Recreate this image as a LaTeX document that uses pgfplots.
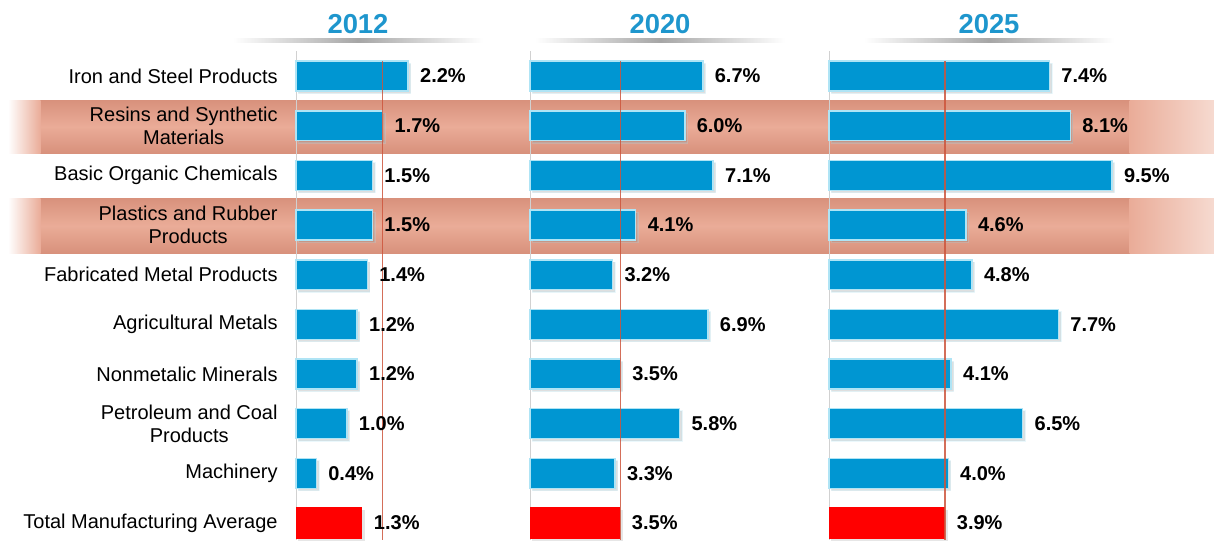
\documentclass[border=0pt]{standalone}
\usepackage{fontspec}
\setmainfont{Liberation Sans}
\usepackage{pgfplots}
\usepackage{pgfplotstable}
\pgfplotsset{compat=1.18}
\usetikzlibrary{shadows}

\definecolor{barblue}{RGB}{0,150,210}
\definecolor{barborder}{RGB}{175,228,245}
\definecolor{titleblue}{RGB}{30,150,205}
\definecolor{band}{RGB}{234,172,152}
\definecolor{banddark}{RGB}{216,145,124}
\definecolor{bandend}{RGB}{246,218,208}
\definecolor{avgline}{RGB}{205,85,60}

\pgfplotstableread{
y v
0 2.2
1 1.7
2 1.5
3 1.5
4 1.4
5 1.2
6 1.2
7 1.0
8 0.4
}\blueA
\pgfplotstableread{
y v
9 1.3
}\redA
\pgfplotstableread{
y v
0 6.7
1 6.0
2 7.1
3 4.1
4 3.2
5 6.9
6 3.5
7 5.8
8 3.3
}\blueB
\pgfplotstableread{
y v
9 3.5
}\redB
\pgfplotstableread{
y v
0 7.4
1 8.1
2 9.5
3 4.6
4 4.8
5 7.7
6 4.1
7 6.5
8 4.0
}\blueC
\pgfplotstableread{
y v
9 3.9
}\redC

\pgfplotsset{/pgf/number format/assume math mode=true,
  panel/.style={
    scale only axis, y dir=reverse,
    ymin=-0.5, ymax=9.35, xmin=0,
    height=244.6pt, anchor=north west,
    axis line style={draw=none}, major tick length=0pt,
    xtick=\empty, clip=false,
  },
  barcommon/.style={xbar, bar shift=0pt, point meta=x,
    nodes near coords={\pgfmathprintnumber[fixed,fixed zerofill,precision=1]{\pgfplotspointmeta}\%},
    nodes near coords style={font=\bfseries\fontsize{10}{12}\selectfont, anchor=west, xshift=2.3pt, text=black},
  },
  bluebar/.style={barcommon, fill=barblue, draw=barborder, line width=0.7pt, bar width=0.6,
    drop shadow={opacity=0.25, shadow xshift=1.2pt, shadow yshift=-1.2pt}},
  redbar/.style={barcommon, fill=red, draw=none, bar width=0.64,
    drop shadow={opacity=0.2, shadow xshift=1.2pt, shadow yshift=-1.2pt}},
  avg/.style={avgline, line width=0.8pt, opacity=0.85, forget plot},
  base/.style={black!18, line width=0.5pt, forget plot},
}

\begin{document}
\begin{tikzpicture}
% background: bands and titles (pixel coordinates)
\begin{axis}[at={(0,0)}, anchor=north west, scale only axis, width=607pt, height=270.5pt,
  xmin=0, xmax=1214, ymin=0, ymax=541, y dir=reverse, hide axis, clip=false]
  \shade[top color=banddark, bottom color=banddark, middle color=band]
    (axis cs:40,100) rectangle (axis cs:1130,153);
  \shade[left color=white, right color=band] (axis cs:8,100) rectangle (axis cs:40.5,153);
  \shade[left color=band, right color=bandend] (axis cs:1129.5,100) rectangle (axis cs:1214,153);
  \shade[top color=banddark, bottom color=banddark, middle color=band]
    (axis cs:40,198) rectangle (axis cs:1130,253);
  \shade[left color=white, right color=band] (axis cs:8,198) rectangle (axis cs:40.5,253);
  \shade[left color=band, right color=bandend] (axis cs:1129.5,198) rectangle (axis cs:1214,253);
  \shade[left color=white, right color=white, middle color=black!35]
    (axis cs:233,38) rectangle (axis cs:483,42);
  \shade[left color=white, right color=white, middle color=black!35]
    (axis cs:535,38) rectangle (axis cs:785,42);
  \shade[left color=white, right color=white, middle color=black!35]
    (axis cs:864,38) rectangle (axis cs:1114,42);
  \node[font=\bfseries\fontsize{13.7}{16}\selectfont, text=titleblue] at (axis cs:358,24) {2012};
  \node[font=\bfseries\fontsize{13.7}{16}\selectfont, text=titleblue] at (axis cs:660,24) {2020};
  \node[font=\bfseries\fontsize{13.7}{16}\selectfont, text=titleblue] at (axis cs:989,24) {2025};
\end{axis}

% panel 2012
\begin{axis}[panel, at={(148pt,-25.6pt)}, width=112.2pt, xmax=4.4,
  ytick={0,...,9},
  yticklabels={Iron and Steel Products, Resins and Synthetic\\Materials, Basic Organic Chemicals,
    Plastics and Rubber\\Products, Fabricated Metal Products, Agricultural Metals,
    Nonmetalic Minerals, Petroleum and Coal\\Products, Machinery, Total Manufacturing Average},
  yticklabel style={font=\fontsize{10}{11.5}\selectfont, align=center, inner sep=0pt, xshift=-9pt}]
  \addplot[base] coordinates {(0,-0.5) (0,9.35)};
  \addplot[bluebar] table[x=v,y=y]{\blueA};
  \addplot[redbar] table[x=v,y=y]{\redA};
  \addplot[avg] coordinates {(1.7,-0.3) (1.7,9.35)};
\end{axis}

% panel 2020
\begin{axis}[panel, at={(265pt,-25.6pt)}, width=141.9pt, xmax=11, ytick=\empty]
  \addplot[base] coordinates {(0,-0.5) (0,9.35)};
  \addplot[bluebar] table[x=v,y=y]{\blueB};
  \addplot[redbar] table[x=v,y=y]{\redB};
  \addplot[avg] coordinates {(3.5,-0.3) (3.5,9.35)};
\end{axis}

% panel 2025
\begin{axis}[panel, at={(414.5pt,-25.6pt)}, width=190.7pt, xmax=12.8, ytick=\empty]
  \addplot[base] coordinates {(0,-0.5) (0,9.35)};
  \addplot[bluebar] table[x=v,y=y]{\blueC};
  \addplot[redbar] table[x=v,y=y]{\redC};
  \addplot[avg] coordinates {(3.9,-0.3) (3.9,9.35)};
\end{axis}

\pgfresetboundingbox
\path[use as bounding box] (0,0) rectangle (607pt,-270.5pt);
\end{tikzpicture}
\end{document}
